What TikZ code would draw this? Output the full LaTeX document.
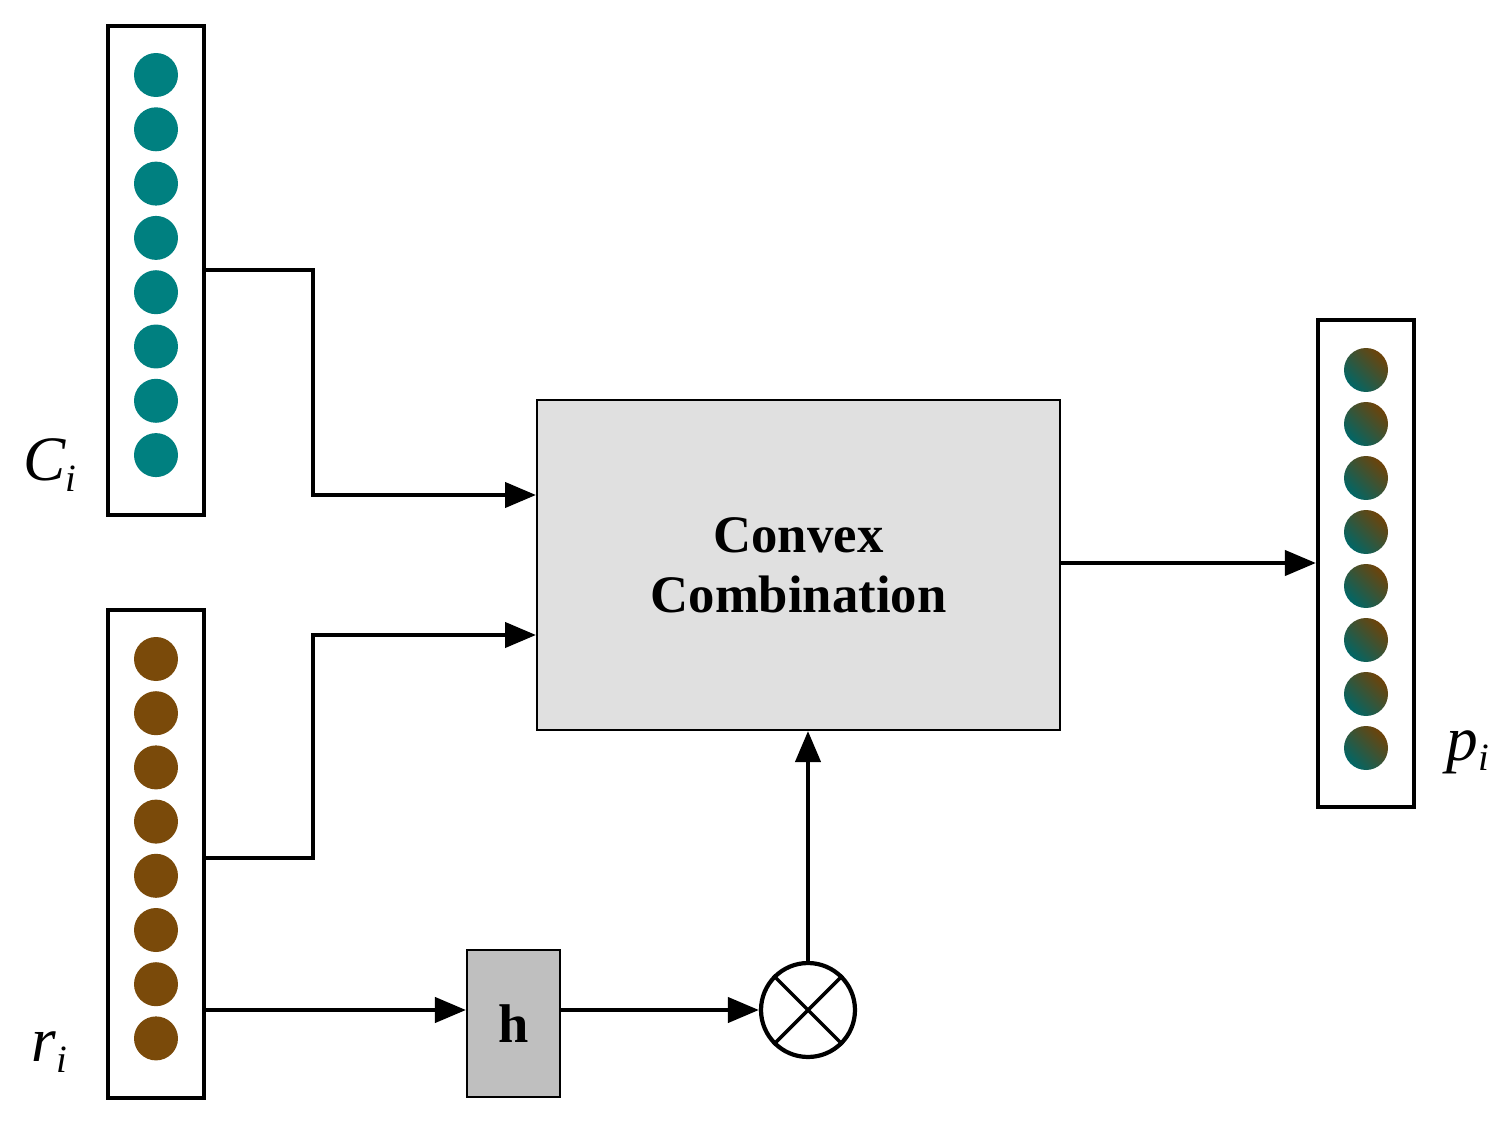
\documentclass[tikz,border=0pt]{standalone}
\usepackage{fontspec}
\setmainfont{Liberation Serif}
\usetikzlibrary{arrows.meta}
\begin{document}
\begin{tikzpicture}[x=0.02cm,y=-0.02cm,
  vec/.style={draw,line width=2.4pt,fill=white},
  dotc/.style={circle,minimum size=0.88cm,inner sep=0,fill=#1},
  con/.style={line width=2.4pt,-{Triangle[length=0.62cm,width=0.5cm]}},
  lab/.style={font=\fontsize{36}{36}\selectfont\itshape}]
\useasboundingbox (0,0) rectangle (1512,1132);
\definecolor{teal1}{HTML}{008080}
\definecolor{brown1}{HTML}{7A4A0A}
\node[vec,minimum width=1.92cm,minimum height=9.78cm,inner sep=0] (C) at (156,270.5) {};
\node[vec,minimum width=1.92cm,minimum height=9.76cm,inner sep=0] (R) at (156,854) {};
\node[vec,minimum width=1.92cm,minimum height=9.74cm,inner sep=0] (P) at (1366,563.5) {};
\foreach \i in {0,...,7}{
  \node[dotc=teal1] (c\i) at (156,{75+54.3*\i}) {};
  \node[dotc=brown1] (r\i) at (156,{659+54.2*\i}) {};
  \node[circle,minimum size=0.88cm,inner sep=0,shading=axis,left color=teal1!80!black,right color=brown1!90!black,shading angle=135] (p\i) at (1366,{370+54*\i}) {};
}
\node[draw,line width=1.2pt,fill=black!12,minimum width=10.46cm,minimum height=6.6cm,inner sep=0,
  align=center,font=\fontsize{30}{34}\selectfont\bfseries] (CC) at (798.5,565) {Convex\\Combination};
\node[draw,line width=1.2pt,fill=black!25,minimum width=1.86cm,minimum height=2.94cm,inner sep=0,
  font=\fontsize{31}{31}\selectfont\bfseries] (H) at (513.5,1023.5) {h};
\node[draw,circle,line width=2.4pt,minimum size=1.88cm,inner sep=0,fill=white] (X) at (808,1010) {};
\draw[line width=2pt] (X.45) -- (X.225) (X.135) -- (X.315);
\coordinate (a1) at (C.east |- 0,270);
\draw[con] (a1) -- (313,270) -- (313,495) -- (CC.west |- 0,495);
\coordinate (a2) at (R.east |- 0,858);
\draw[con] (a2) -- (313,858) -- (313,635) -- (CC.west |- 0,635);
\draw[con] (R.east |- 0,1010) -- (H.west |- 0,1010);
\draw[con] (H.east |- 0,1010) -- (X.west);
\draw[con] (X.north) -- (CC.south -| X.north);
\draw[con] (CC.east |- 0,563) -- (P.west |- 0,563);
\node[lab] (lc) at (50,465) {C\textsubscript{\fontsize{22}{22}\selectfont i}};
\node[lab] (lr) at (50,1052) {r\textsubscript{\fontsize{22}{22}\selectfont i}};
\node[lab] (lp) at (1468,752) {p\textsubscript{\fontsize{22}{22}\selectfont i}};
\end{tikzpicture}
\end{document}
